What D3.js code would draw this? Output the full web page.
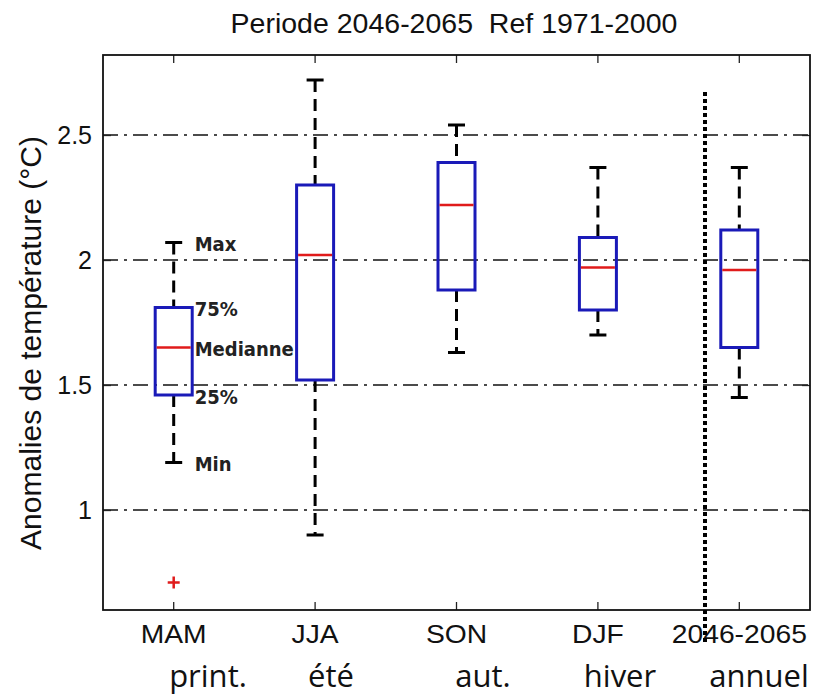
<!DOCTYPE html>
<html><head><meta charset="utf-8">
<script src="https://cdn.jsdelivr.net/npm/d3@7"></script>
<style>body{margin:0;background:#fff}svg{display:block}</style>
</head><body><svg id="c" width="814" height="696"></svg>
<script>
const categories = ["MAM","JJA","SON","DJF","2046-2065"];
const seasonLabels = ["print.","été","aut.","hiver","annuel"];
const mins    = [1.19, 0.90, 1.63, 1.70, 1.45];
const q1s     = [1.46, 1.52, 1.88, 1.80, 1.65];
const medians = [1.65, 2.02, 2.22, 1.97, 1.96];
const q3s     = [1.81, 2.30, 2.39, 2.09, 2.12];
const maxs    = [2.07, 2.72, 2.54, 2.37, 2.37];
const outliers = [{cat:"MAM", value:0.71}];
const yTicks = [1, 1.5, 2, 2.5];
const annotations = [{text:"Max", v:2.07},{text:"75%", v:1.81},{text:"Medianne", v:1.65},{text:"25%", v:1.46},{text:"Min", v:1.19}];
const title = "Periode 2046-2065  Ref 1971-2000";
const yLabel = "Anomalies de température (°C)";

const svg = d3.select("#c");
const L=103, R=810, T=55, B=610;
const x = d3.scaleBand().domain(categories).range([L,R]);
const y = d3.scaleLinear().domain([0.6, 2.82]).range([B,T]);
const cx = c => x(c) + x.bandwidth()/2;
const sans = "Liberation Sans, Arial, sans-serif";

// grid
svg.append("g").selectAll("line").data(yTicks).join("line")
  .attr("x1",L).attr("x2",R).attr("y1",d=>y(d)).attr("y2",d=>y(d))
  .attr("stroke","#111").attr("stroke-width",1.5).attr("stroke-dasharray","15,6,3,6");

// axes (ticks inside)
const yAxis = svg.append("g").attr("transform",`translate(${L},0)`)
  .call(d3.axisLeft(y).tickValues(yTicks).tickSizeInner(-8).tickSizeOuter(0).tickPadding(11).tickFormat(d3.format("")));
const yAxisR = svg.append("g").attr("transform",`translate(${R},0)`)
  .call(d3.axisRight(y).tickValues(yTicks).tickSizeInner(-8).tickSizeOuter(0).tickFormat(""));
const xAxis = svg.append("g").attr("transform",`translate(0,${B})`)
  .call(d3.axisBottom(x).tickSizeInner(-8).tickSizeOuter(0).tickPadding(15));
const xAxisT = svg.append("g").attr("transform",`translate(0,${T})`)
  .call(d3.axisTop(x).tickSizeInner(-8).tickSizeOuter(0).tickFormat(""));
[yAxis,yAxisR,xAxis,xAxisT].forEach(g=>{
  g.select(".domain").remove();
  g.selectAll(".tick line").attr("stroke","#222").attr("stroke-width",1.3);
  g.selectAll("text").attr("font-family",sans).attr("fill","#111");
});
yAxis.selectAll("text").attr("font-size",25);
xAxis.selectAll("text").attr("font-size",25).attr("textLength",function(){return this.getComputedTextLength()*1.13;})
  .attr("lengthAdjust","spacingAndGlyphs");

// frame
svg.append("rect").attr("x",L).attr("y",T).attr("width",R-L).attr("height",B-T)
  .attr("fill","none").attr("stroke","#111").attr("stroke-width",1.8);

const bw = 37, cw = 17;
const g = svg.append("g");
categories.forEach((c,i)=>{
  const X = cx(c);
  g.append("line").attr("x1",X).attr("x2",X).attr("y1",y(maxs[i])).attr("y2",y(q3s[i]))
    .attr("stroke","#000").attr("stroke-width",3).attr("stroke-dasharray","12,7");
  g.append("line").attr("x1",X).attr("x2",X).attr("y1",y(q1s[i])).attr("y2",y(mins[i]))
    .attr("stroke","#000").attr("stroke-width",3).attr("stroke-dasharray","12,7");
  [maxs[i],mins[i]].forEach(v=>g.append("line").attr("x1",X-cw/2).attr("x2",X+cw/2)
    .attr("y1",y(v)).attr("y2",y(v)).attr("stroke","#000").attr("stroke-width",3));
  g.append("rect").attr("x",X-bw/2).attr("y",y(q3s[i])).attr("width",bw)
    .attr("height",y(q1s[i])-y(q3s[i])).attr("fill","none").attr("stroke","#1a1ab8").attr("stroke-width",3);
  g.append("line").attr("x1",X-bw/2+1.5).attr("x2",X+bw/2-1.5).attr("y1",y(medians[i])).attr("y2",y(medians[i]))
    .attr("stroke","#e01b1b").attr("stroke-width",2.6);
});
outliers.forEach(o=>{
  const X=cx(o.cat), Y=y(o.value);
  g.append("path").attr("d",`M${X-6},${Y}H${X+6}M${X},${Y-6}V${Y+6}`).attr("stroke","#e01b1b").attr("stroke-width",2.5);
});

// annotations
svg.append("g").selectAll("text").data(annotations).join("text")
  .attr("x",cx(categories[0])+21).attr("y",d=>y(d.v)+1.5).attr("dy","0.36em")
  .attr("font-family","DejaVu Sans Condensed, DejaVu Sans, sans-serif").attr("font-weight","bold")
  .attr("font-size",20).attr("fill","#222").text(d=>d.text);

// dotted vertical line
svg.append("line").attr("x1",705).attr("x2",705).attr("y1",92).attr("y2",645)
  .attr("stroke","#000").attr("stroke-width",4).attr("stroke-dasharray","4,3");

// title
svg.append("text").attr("x",454).attr("y",33).attr("text-anchor","middle").style("white-space","pre")
  .attr("font-family",sans).attr("font-size",28.5).attr("fill","#111").text(title);
// y label
svg.append("text").attr("transform",`translate(41,343) rotate(-90)`).attr("text-anchor","middle")
  .attr("font-family",sans).attr("font-size",30).attr("fill","#111").text(yLabel);
// season labels
const seasonX = [208,331,483,620,759];
svg.append("g").selectAll("text").data(seasonLabels).join("text")
  .attr("x",(d,i)=>seasonX[i]).attr("y",687).attr("text-anchor","middle")
  .attr("font-family","Open Sans, Noto Sans, sans-serif").attr("font-size",31).attr("fill","#111").text(d=>d);
</script></body></html>
